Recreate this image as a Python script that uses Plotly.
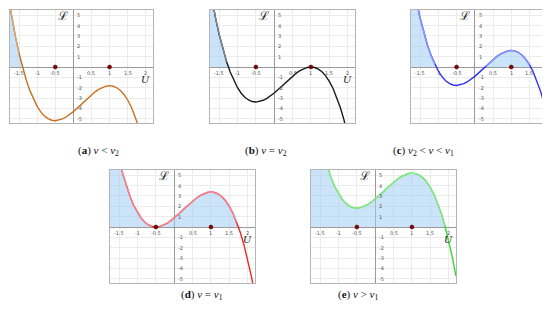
import plotly.graph_objects as go

# sample points of the potential curve
u = [-1.8, -1.7, -1.6, -1.5, -1.4, -1.3, -1.2, -1.1, -1.0, -0.9, -0.8,
     -0.7, -0.6, -0.5, -0.4, -0.3, -0.2, -0.1, 0.0, 0.1, 0.2, 0.3,
     0.4, 0.5, 0.6, 0.7, 0.8, 0.9, 1.0, 1.1, 1.2, 1.3, 1.4, 1.5,
     1.6, 1.7, 1.8, 1.9, 2.0, 2.1, 2.2]

L_a = [6.82, 4.76, 2.93, 1.33, -0.07, -1.27, -2.28, -3.12, -3.80, -4.33, -4.72,
       -4.98, -5.13, -5.18, -5.13, -5.01, -4.82, -4.58, -4.30, -3.99, -3.66, -3.32,
       -2.99, -2.68, -2.39, -2.15, -1.96, -1.84, -1.80, -1.85, -2.00, -2.26, -2.65, -3.18,
       -3.85, -4.69, -5.70, -6.90, -8.30, -9.91, -11.74]
L_b = [8.62, 6.56, 4.73, 3.13, 1.73, 0.53, -0.48, -1.32, -2.00, -2.53, -2.92,
       -3.18, -3.33, -3.38, -3.33, -3.21, -3.02, -2.78, -2.50, -2.19, -1.86, -1.52,
       -1.19, -0.88, -0.59, -0.35, -0.16, -0.04, 0.00, -0.05, -0.20, -0.46, -0.85, -1.38,
       -2.05, -2.89, -3.90, -5.10, -6.50, -8.11, -9.94]
L_c = [10.22, 8.16, 6.33, 4.73, 3.33, 2.13, 1.12, 0.28, -0.40, -0.93, -1.32,
       -1.58, -1.73, -1.78, -1.73, -1.61, -1.42, -1.18, -0.90, -0.59, -0.26, 0.08,
       0.41, 0.73, 1.01, 1.25, 1.44, 1.56, 1.60, 1.55, 1.40, 1.14, 0.75, 0.23,
       -0.45, -1.29, -2.30, -3.50, -4.90, -6.51, -8.34]
L_d = [12.00, 9.94, 8.11, 6.50, 5.10, 3.90, 2.89, 2.05, 1.38, 0.85, 0.46,
       0.20, 0.05, 0.00, 0.04, 0.16, 0.35, 0.59, 0.88, 1.19, 1.52, 1.86,
       2.19, 2.50, 2.78, 3.02, 3.21, 3.33, 3.38, 3.33, 3.18, 2.92, 2.53, 2.00,
       1.32, 0.48, -0.53, -1.73, -3.13, -4.73, -6.56]
L_e = [13.82, 11.76, 9.93, 8.33, 6.93, 5.73, 4.72, 3.88, 3.20, 2.67, 2.28,
       2.02, 1.87, 1.83, 1.87, 1.99, 2.18, 2.42, 2.70, 3.01, 3.34, 3.68,
       4.01, 4.33, 4.61, 4.85, 5.04, 5.16, 5.20, 5.15, 5.00, 4.74, 4.35, 3.83,
       3.15, 2.31, 1.30, 0.10, -1.30, -2.91, -4.74]

critical_u = [-0.5, 1]
x_ticks = [-1.5, -1, -0.5, 0.5, 1, 1.5, 2]
x_tick_labels = ["-1.5", "-1", "-0.5", "0.5", "1", "1.5", "2"]
y_ticks = [5, 4, 3, 2, 1, -1, -2, -3, -4, -5]
y_tick_labels = ["5", "4", "3", "2", "1", "-1", "-2", "-3", "-4", "-5"]

captions = [
    "(<b>a</b>) <i>v</i> &lt; <i>v</i><sub>2</sub>",
    "(<b>b</b>) <i>v</i> = <i>v</i><sub>2</sub>",
    "(<b>c</b>) <i>v</i><sub>2</sub> &lt; <i>v</i> &lt; <i>v</i><sub>1</sub>",
    "(<b>d</b>) <i>v</i> = <i>v</i><sub>1</sub>",
    "(<b>e</b>) <i>v</i> &gt; <i>v</i><sub>1</sub>",
]

W, H = 550, 310
X_RANGE = [-1.75, 2.2]
Y_RANGE = [-5.4, 5.5]

# panel boxes in pixels: (left, right, top, bottom), caption centre (x, y)
# "soft" is the lighter tint the curve takes inside the shaded area
panels = [
    dict(L=L_a, color="#c8721e", soft="#d9a77a", box=(2, 145, 2, 115), cap=(68, 143)),
    dict(L=L_b, color="#1a1a1a", soft="#7d8a99", box=(202, 347, 2, 115), cap=(258, 143)),
    dict(L=L_c, color="#3030ee", soft="#8a9cf5", box=(403, 547, 2, 115), cap=(448, 143)),
    dict(L=L_d, color="#ee2525", soft="#f08a96", box=(102, 247, 162, 275), cap=(171, 296)),
    dict(L=L_e, color="#35d835", soft="#8ee88e", box=(303, 448, 162, 275), cap=(372, 296)),
]

fig = go.Figure()
annotations = []
layout = {}

for i, p in enumerate(panels):
    n = "" if i == 0 else str(i + 1)
    xa, ya = "x" + n, "y" + n
    left, right, top, bottom = p["box"]

    layout["xaxis" + n] = dict(
        domain=[left / W, right / W], range=X_RANGE, anchor=ya,
        dtick=0.5, tick0=0, showticklabels=False, ticks="",
        showgrid=True, gridcolor="#ececec", gridwidth=1,
        zeroline=True, zerolinecolor="#9a9a9a", zerolinewidth=1.2,
        showline=True, mirror=True, linecolor="#b4b4b4", linewidth=1,
        fixedrange=True,
    )
    layout["yaxis" + n] = dict(
        domain=[1 - bottom / H, 1 - top / H], range=Y_RANGE, anchor=xa,
        dtick=1, tick0=0, showticklabels=False, ticks="",
        showgrid=True, gridcolor="#ececec", gridwidth=1,
        zeroline=True, zerolinecolor="#9a9a9a", zerolinewidth=1.2,
        showline=True, mirror=True, linecolor="#b4b4b4", linewidth=1,
        fixedrange=True,
    )

    # shaded region where the potential is positive
    fig.add_trace(go.Scatter(
        x=u, y=[max(v, 0) for v in p["L"]], mode="lines", xaxis=xa, yaxis=ya,
        line=dict(width=0), fill="tozeroy",
        fillcolor="rgba(160,205,245,0.55)", showlegend=False,
    ))
    fig.add_trace(go.Scatter(
        x=u, y=p["L"], mode="lines", xaxis=xa, yaxis=ya,
        line=dict(color=p["color"], width=1.4), showlegend=False,
    ))
    # part of the curve inside the shading looks washed out
    fig.add_trace(go.Scatter(
        x=u, y=[v if v > 0 else None for v in p["L"]], mode="lines", xaxis=xa, yaxis=ya,
        line=dict(color=p["soft"], width=1.4), showlegend=False, connectgaps=False,
    ))
    fig.add_trace(go.Scatter(
        x=critical_u, y=[0] * len(critical_u), mode="markers", xaxis=xa, yaxis=ya,
        marker=dict(color="#8a0000", size=4, line=dict(color="#2a0000", width=0.5)),
        showlegend=False,
    ))

    for t, lab in zip(x_ticks, x_tick_labels):
        annotations.append(dict(
            x=t, y=0, xref=xa, yref=ya, text=lab, showarrow=False,
            yshift=-5.5, font=dict(size=5, color="#555", family="DejaVu Sans"),
        ))
    for t, lab in zip(y_ticks, y_tick_labels):
        annotations.append(dict(
            x=0, y=t, xref=xa, yref=ya, text=lab, showarrow=False,
            xanchor="left", xshift=2, font=dict(size=5, color="#555", family="DejaVu Sans"),
        ))
    annotations.append(dict(
        x=-0.28, y=4.9, xref=xa, yref=ya, text="ℒ", showarrow=False,
        font=dict(size=12, color="#222", family="DejaVu Serif"),
    ))
    annotations.append(dict(
        x=2.0, y=-1.2, xref=xa, yref=ya, text="<i>U</i>", showarrow=False,
        font=dict(size=11, color="#222", family="Liberation Serif"),
    ))
    cx, cy = p["cap"]
    annotations.append(dict(
        x=cx / W, y=1 - cy / H, xref="paper", yref="paper", text=captions[i],
        showarrow=False, font=dict(size=11, color="#111", family="Liberation Serif"),
    ))

fig.update_layout(
    **layout,
    annotations=annotations,
    width=W, height=H,
    margin=dict(l=0, r=0, t=0, b=0),
    paper_bgcolor="white", plot_bgcolor="white",
    showlegend=False,
)

fig.write_html("out.html", config={"displayModeBar": False})
